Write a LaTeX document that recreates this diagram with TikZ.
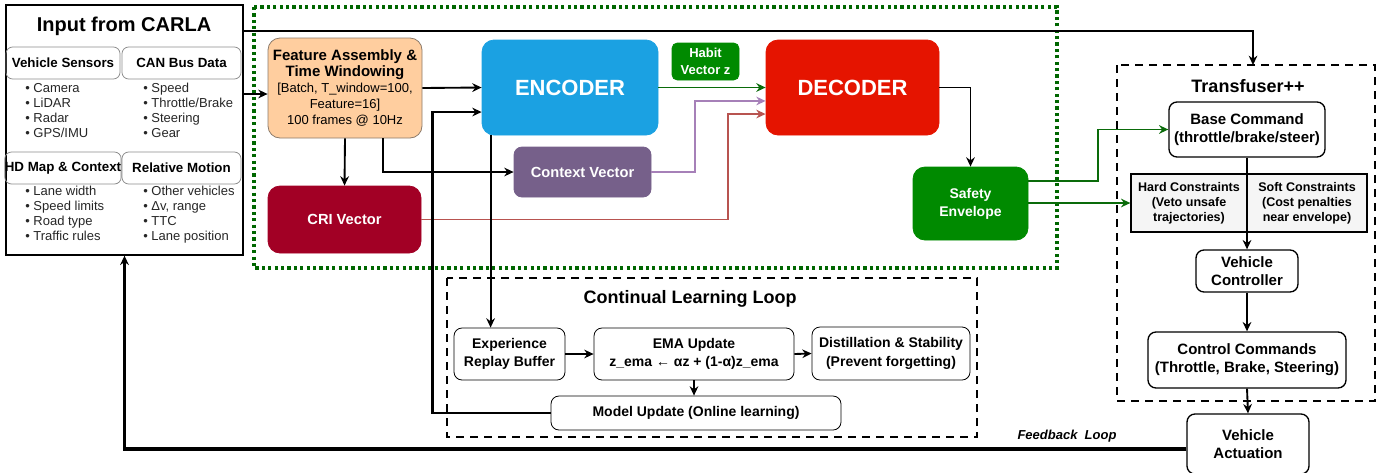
\documentclass[tikz,border=0pt]{standalone}
\usepackage{fontspec}
\setmainfont{Liberation Sans}
\usepackage{xcolor}
\definecolor{peachFill}{HTML}{FFCE9F}
\definecolor{peachLine}{HTML}{8C7B6B}
\definecolor{encBlue}{HTML}{1BA1E2}
\definecolor{decRed}{HTML}{E51400}
\definecolor{habGreen}{HTML}{008A00}
\definecolor{ctxPurple}{HTML}{76608A}
\definecolor{criRed}{HTML}{A20025}
\definecolor{frameGreen}{HTML}{006600}
\definecolor{linkGreen}{HTML}{0A6B0A}
\definecolor{linkPurple}{HTML}{A680B8}
\definecolor{linkRed}{HTML}{B85450}
\definecolor{consFill}{HTML}{F5F5F5}
\definecolor{subLine}{HTML}{8C8C8C}
\usepackage{tikz}
\usetikzlibrary{
    arrows.meta,
    positioning,
    calc
}
\newcommand{\fsz}[2]{\fontsize{#1}{#2}\selectfont}
\tikzset{
    % Plain white boxes with black outline
    plainbox/.style={
        draw=black,
        line width=1pt,
        rounded corners=6pt,
        align=center,
        inner sep=1pt,
        font=\bfseries\fsz{11.25}{13.5},
    },
    % Small header boxes inside the input panel
    subhead/.style={
        draw=subLine,
        line width=0.6pt,
        rounded corners=5pt,
        minimum height=24pt,
        inner sep=0pt,
        font=\bfseries\fsz{10}{12},
    },
    % Bullet lists of the input panel
    bullets/.style={
        anchor=north west,
        align=left,
        inner sep=0pt,
        text=black!85,
        font=\fsz{9.75}{11.25},
    },
    % Coloured blocks of the model
    block/.style={
        rounded corners=9pt,
        line width=0.6pt,
        align=center,
        text=white,
        inner sep=1pt,
        font=\bfseries\fsz{11}{13.5},
    },
    % Frames round groups of boxes
    dotframe/.style={
        draw=frameGreen,
        line width=2.6pt,
        dash pattern=on 2.4pt off 2.4pt,
    },
    dashframe/.style={
        draw=black,
        line width=1pt,
        dash pattern=on 6pt off 4.5pt,
    },
    % Connectors
    arrow/.style={
        -{Stealth[length=7pt, width=6.5pt]},
        line width=1.4pt,
        draw=black,
    },
    thick arrow/.style={
        arrow,
        line width=2.4pt,
    },
}

\begin{document}
\begin{tikzpicture}[x=0.75pt, y=-0.75pt]
    \useasboundingbox (0,0) rectangle (1391,472);

    % group frames
    \draw[dotframe] (254,7) rectangle (1057,268);
    \draw[dashframe] (1117,65) rectangle (1375,401);
    \draw[dashframe] (447,278) rectangle (977,437);
    \coordinate (tftop) at (1253,65);

    % input panel
    \node[plainbox, rounded corners=0pt, minimum width=177.75pt, minimum height=187.5pt] (input) at (124.5,130) {};
    \node[font=\bfseries\fsz{15}{18}] (inputtitle) at (124,26) {Input from CARLA};
    \node[subhead, minimum width=85.5pt] (sensors) at (63,63) {Vehicle Sensors};
    \node[subhead, minimum width=89.25pt] (canbus) at (181.5,63) {CAN Bus Data};
    \node[subhead, minimum width=85.5pt] (hdmap) at (63,168) {HD Map \& Context};
    \node[subhead, minimum width=89.25pt] (motion) at (181.5,168) {Relative Motion};
    \node[bullets] (sensorlist) at (25,83) {• Camera\\• LiDAR\\• Radar\\• GPS/IMU};
    \node[bullets] (canlist) at (143,83) {• Speed\\• Throttle/Brake\\• Steering\\• Gear};
    \node[bullets] (maplist) at (25,186) {• Lane width\\• Speed limits\\• Road type\\• Traffic rules};
    \node[bullets] (motionlist) at (143,186) {• Other vehicles\\• Δv, range\\• TTC\\• Lane position};

    % model blocks
    \node[block, fill=peachFill, draw=peachLine, text=black, font=\fsz{9.75}{12},
          minimum width=115.5pt, minimum height=75pt] (feature) at (345,88)
          {{\bfseries\fsz{11.25}{12}Feature Assembly \&}\\{\bfseries\fsz{11.25}{12}Time Windowing}\\
           {[}Batch, T\_window=100,\\Feature=16]\\100 frames @ 10Hz};
    \node[block, fill=encBlue, draw=encBlue, font=\bfseries\fsz{16.5}{20},
          minimum width=132pt, minimum height=71.25pt] (encoder) at (570,87.5) {ENCODER};
    \node[block, fill=decRed, draw=decRed, font=\bfseries\fsz{16.5}{20},
          minimum width=129.75pt, minimum height=71.25pt] (decoder) at (852.5,87.5) {DECODER};
    \node[block, fill=habGreen, draw=habGreen, rounded corners=4pt, font=\bfseries\fsz{9.75}{12.75},
          minimum width=50.25pt, minimum height=27.75pt] (habit) at (705.5,61.5) {Habit\\Vector z};
    \node[block, fill=ctxPurple, draw=ctxPurple, rounded corners=6pt,
          minimum width=102.75pt, minimum height=37.5pt] (context) at (582.5,172) {Context Vector};
    \node[block, fill=criRed, draw=criRed,
          minimum width=114.75pt, minimum height=50.25pt] (cri) at (344.5,219.5) {CRI Vector};
    \node[block, fill=habGreen, draw=habGreen, font=\bfseries\fsz{10.5}{13.5},
          minimum width=86.25pt, minimum height=54.75pt] (safety) at (970.5,203.5) {Safety\\Envelope};

    % transfuser++
    \node[font=\bfseries\fsz{13.5}{16}] (tftitle) at (1248,86) {Transfuser++};
    \node[plainbox, minimum width=117pt, minimum height=41.25pt] (base) at (1247,129.5)
          {Base Command\\(throttle/brake/steer)};
    \node[draw=black, line width=1pt, fill=consFill, align=center, inner sep=0pt,
          font=\bfseries\fsz{9.4}{11.25}, minimum width=87pt, minimum height=43.5pt] (hard) at (1189,203)
          {Hard Constraints\\(Veto unsafe\\trajectories)};
    \node[draw=black, line width=1pt, fill=consFill, align=center, inner sep=0pt,
          font=\bfseries\fsz{9.4}{11.25}, minimum width=90pt, minimum height=43.5pt] (soft) at (1307,203)
          {Soft Constraints\\(Cost penalties\\near envelope)};
    \node[plainbox, minimum width=76.5pt, minimum height=31.5pt] (controller) at (1247,271)
          {Vehicle\\Controller};
    \node[plainbox, minimum width=148.5pt, minimum height=42pt] (commands) at (1247,360)
          {Control Commands\\(Throttle, Brake, Steering)};
    \node[plainbox, minimum width=91.5pt, minimum height=45pt] (actuation) at (1248,444)
          {Vehicle\\Actuation};

    % continual learning loop
    \node[font=\bfseries\fsz{13.5}{16}] (cltitle) at (690,299) {Continual Learning Loop};
    \node[plainbox, line width=0.6pt, font=\bfseries\fsz{10.5}{14}, minimum width=83.25pt, minimum height=39pt]
          (replay) at (509.5,354) {Experience\\Replay Buffer};
    \node[plainbox, line width=0.6pt, font=\bfseries\fsz{10.5}{14}, minimum width=150pt, minimum height=39pt]
          (ema) at (694,354) {EMA Update\\z\_ema ← αz + (1-α)z\_ema};
    \node[plainbox, line width=0.6pt, font=\bfseries\fsz{10.5}{14}, minimum width=118.5pt, minimum height=39.75pt]
          (distill) at (891,353.5) {Distillation \& Stability\\(Prevent forgetting)};
    \node[plainbox, line width=0.6pt, font=\bfseries\fsz{10.5}{14}, minimum width=217.5pt, minimum height=25.5pt]
          (modelupd) at (696,413) {Model Update (Online learning)};

    \node[font=\bfseries\itshape\fsz{9.75}{12}] (fblabel) at (1067,436) {Feedback\ \ Loop};

    % connectors
    \draw[arrow] (input.east |- {$(feature.west)+(0,6)$}) -- ($(feature.west)+(0,6)$);
    \draw[arrow] ([yshift=-20.25pt]input.north east) -| (tftop);
    \draw[arrow] (feature.east) -- (encoder.west);
    \draw[arrow] (feature.south) -- (cri.north);
    \draw[arrow] ([xshift=28.5pt]feature.south) |- (context.west);
    \draw[arrow, draw=linkGreen] (encoder.east) -- (decoder.west);
    \draw[arrow, draw=linkPurple] (context.east) -- ++(44,0) |- ([yshift=-10.1pt]decoder.west);
    \draw[arrow, draw=linkRed] (cri.east) -- ++(307,0) |- ([yshift=-19.9pt]decoder.west);
    \draw[arrow] (decoder.east) -| (safety.north);
    \draw[arrow, draw=linkGreen] ([yshift=16.9pt]safety.east) -- ++(70,0) |- (base.west);
    \draw[arrow, draw=linkGreen] (safety.east |- hard.west) -- (hard.west);
    \draw[arrow] (base.south) -- (controller.north);
    \draw[arrow] (controller.south) -- (commands.north);
    \draw[arrow] (commands.south) -- (actuation.north);
    \draw[arrow] ([xshift=6.75pt]encoder.south west) -- ([xshift=6.75pt]encoder.south west |- replay.north);
    \draw[arrow] (replay.east) -- (ema.west);
    \draw[arrow] (ema.east) -- (distill.west);
    \draw[arrow] (ema.south) -- (ema.south |- modelupd.north);
    \draw[arrow, line width=1.7pt] (modelupd.west) -- ++(-118,0) |- ([yshift=-18.4pt]encoder.west);
    \draw[thick arrow] ([yshift=-3.75pt]actuation.west) -| (input.south);
\end{tikzpicture}
\end{document}
